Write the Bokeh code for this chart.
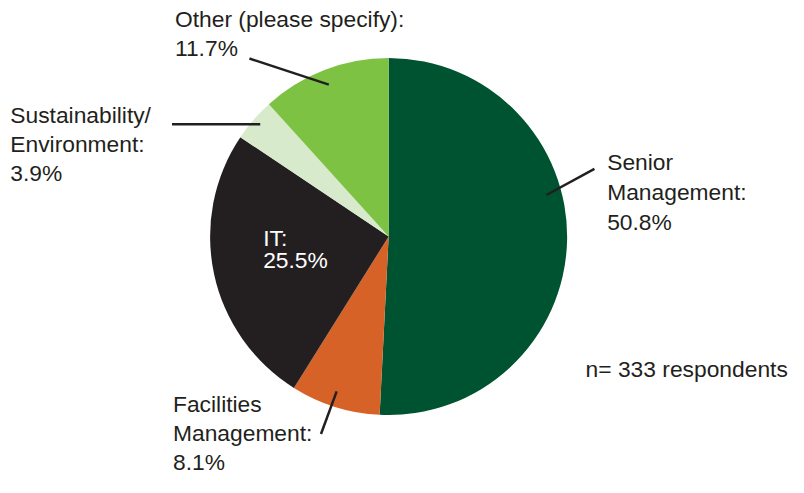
import math
from bokeh.plotting import figure
from bokeh.models import Range1d, ColumnDataSource
from bokeh.core.properties import value
from bokeh.embed import file_html
from bokeh.resources import INLINE

# ---- data ----
categories = ["Senior Management", "Facilities Management", "IT",
              "Sustainability/ Environment", "Other (please specify)"]
shares = [50.8, 8.1, 25.5, 3.9, 11.7]
colors = ["#005330", "#D66228", "#231F20", "#D7EACB", "#7DC243"]
label_lines = [
    ["Senior", "Management:", "50.8%"],
    ["Facilities", "Management:", "8.1%"],
    ["IT:", "25.5%"],
    ["Sustainability/", "Environment:", "3.9%"],
    ["Other (please specify):", "11.7%"],
]
note = "n= 333 respondents"

# ---- layout (reference pixel coordinates, scaled into the figure) ----
W, H = 788, 477
SX, SY = W / 804.0, H / 493.0
S = min(SX, SY)
TEXT_SHIFT = 9.0  # renderer draws the alphabetic baseline ~9px lower
def px(X):
    return X * SX
def py(Y):
    return H - Y * SY

CX, CY, R = px(396), py(244), 184.5 * S

# label anchor: (left x, first baseline y, line spacing, colour)
label_pos = [
    (619, 176, 31, "#231F20"),
    (176, 426, 30, "#231F20"),
    (268, 255, 22, "#FFFFFF"),
    (10, 128, 30, "#231F20"),
    (178, 28, 30, "#231F20"),
]
leaders = [
    ((557, 201), (606, 174)),
    ((343, 404), (327, 448)),
    None,
    ((265, 128), (175, 128)),
    ((335, 87), (254, 60)),
]

p = figure(width=W, height=H, output_backend="svg", toolbar_location=None,
           x_range=Range1d(0, W), y_range=Range1d(0, H), min_border=0)
p.axis.visible = False
p.grid.visible = False
p.outline_line_color = None
p.background_fill_color = "white"
p.border_fill_color = "white"

total = sum(shares)
starts, ends = [], []
cum = 0.0
for s in shares:
    starts.append(math.pi / 2 - 2 * math.pi * cum / total)
    cum += s
    ends.append(math.pi / 2 - 2 * math.pi * cum / total)

src = ColumnDataSource(dict(start=starts, end=ends, color=colors, cat=categories))
p.wedge(x=CX, y=CY, radius=R, start_angle="start", end_angle="end",
        direction="clock", fill_color="color", line_color=None, source=src)

# leader lines
for ld in leaders:
    if ld is None:
        continue
    (x0, y0), (x1, y1) = ld
    p.line([px(x0), px(x1)], [py(y0), py(y1)], line_color="#231F20", line_width=2.5)

# labels
xs, ys, ts, cs = [], [], [], []
for lines, (lx, ly, sp, col) in zip(label_lines, label_pos):
    for i, t in enumerate(lines):
        xs.append(px(lx)); ys.append(py(ly + i * sp) + TEXT_SHIFT); ts.append(t); cs.append(col)
xs.append(px(597)); ys.append(py(390) + TEXT_SHIFT); ts.append(note); cs.append("#231F20")

tsrc = ColumnDataSource(dict(x=xs, y=ys, text=ts, color=cs))
p.text(x="x", y="y", text="text", text_color="color", source=tsrc,
       text_font=value("Liberation Sans"), text_font_size="22.8px",
       text_align="left", text_baseline="alphabetic")

open("out.html", "w").write(file_html(p, INLINE))
